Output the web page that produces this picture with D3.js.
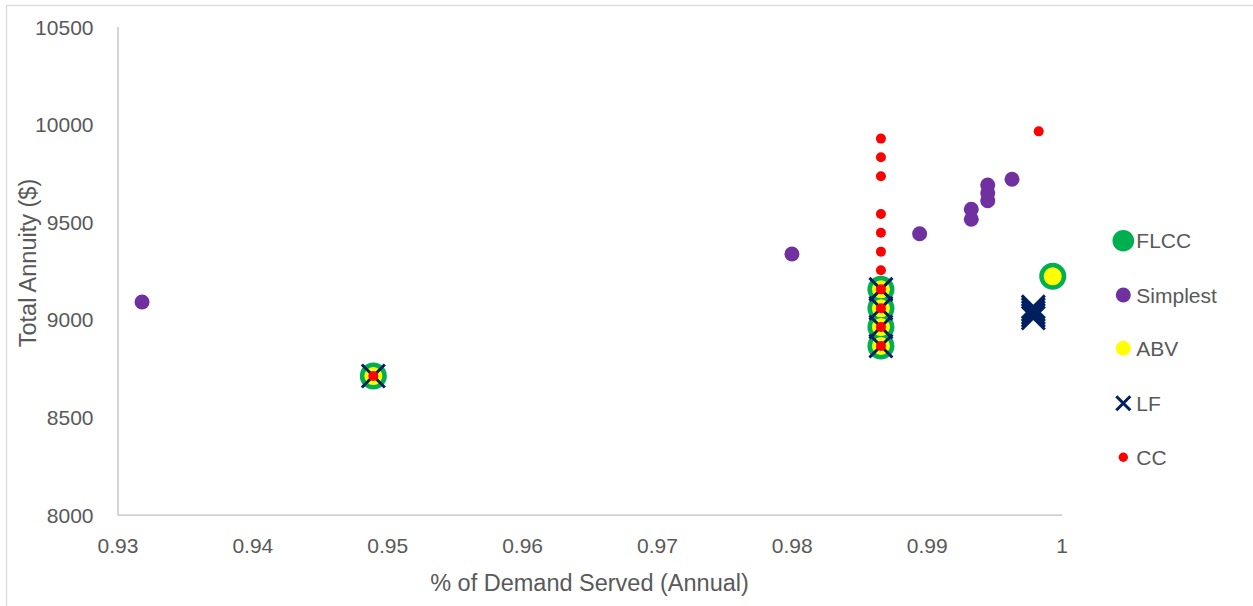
<!DOCTYPE html>
<html><head><meta charset="utf-8">
<script src="https://cdn.jsdelivr.net/npm/d3@7"></script>
<style>body{margin:0;background:#fff}svg{display:block}</style>
</head><body><svg id="c" width="1253" height="606"></svg>
<script>
// ---- data ----
const xTicks = [0.93, 0.94, 0.95, 0.96, 0.97, 0.98, 0.99, 1];
const yTicks = [8000, 8500, 9000, 9500, 10000, 10500];
const seriesNames = ["FLCC", "Simplest", "ABV", "LF", "CC"];
const flcc = [[0.94897, 8710], [0.98661, 8864], [0.98661, 8961], [0.98661, 9057], [0.98661, 9154], [0.99935, 9221]];
const simplest = [[0.93182, 9089], [0.98001, 9335], [0.98948, 9439], [0.99331, 9513], [0.99331, 9564],
                  [0.99453, 9608], [0.99453, 9647], [0.99453, 9688], [0.99633, 9718]];
const abv = [[0.94897, 8710], [0.98661, 8864], [0.98661, 8961], [0.98661, 9057], [0.98661, 9154], [0.99935, 9221]];
const lf = [[0.94897, 8710], [0.98661, 8864], [0.98661, 8961], [0.98661, 9057], [0.98661, 9154],
            [0.99791, 9007], [0.99791, 9021], [0.99791, 9035], [0.99791, 9050], [0.99791, 9064]];
const cc = [[0.94897, 8710], [0.98661, 8864], [0.98661, 8961], [0.98661, 9057], [0.98661, 9154],
            [0.98661, 9252], [0.98661, 9347], [0.98661, 9444], [0.98661, 9540], [0.98661, 9733],
            [0.98661, 9830], [0.98661, 9926], [0.99831, 9963]];

// ---- layout / style ----
const FONT = "'Liberation Sans', Arial, sans-serif";
const TXT = "#595959";
const svg = d3.select("#c");
const x = d3.scaleLinear().domain([0.93, 1]).range([117.5, 1061.5]);
const y = d3.scaleLinear().domain([8000, 10500]).range([514.7, 26.5]);

// outer chart border
svg.append("rect").attr("x", 6.5).attr("y", 5.5).attr("width", 1260).attr("height", 620)
  .attr("fill", "#fff").attr("stroke", "#d9d9d9").attr("stroke-width", 1.3);

// axes
const gx = svg.append("g").attr("transform", `translate(0,${y(8000)})`)
  .call(d3.axisBottom(x).tickValues(xTicks).tickSize(0).tickSizeOuter(0).tickFormat(d => d3.format("")(+d.toFixed(2))));
const gy = svg.append("g").attr("transform", `translate(${x(0.93)},0)`)
  .call(d3.axisLeft(y).tickValues(yTicks).tickSize(0).tickSizeOuter(0).tickPadding(24).tickFormat(d3.format("d")));
[gx, gy].forEach(g => {
  g.select(".domain").attr("stroke", "#bfbfbf").attr("stroke-width", 1.3);
  g.selectAll("text").attr("fill", TXT).style("font-family", FONT).style("font-size", "21px");
});
gx.selectAll("text").attr("dy", null).attr("y", 38.5);
gy.selectAll("text").attr("dy", "0.36em");

// axis titles
svg.append("text").attr("x", (x(0.93) + x(1)) / 2).attr("y", 591).attr("text-anchor", "middle")
  .attr("fill", TXT).style("font-family", FONT).style("font-size", "23.5px").text("% of Demand Served (Annual)");
svg.append("text").attr("transform", "translate(28,263) rotate(-90)").attr("text-anchor", "middle")
  .attr("dy", "0.36em").attr("fill", TXT).style("font-family", FONT).style("font-size", "23.5px").text("Total Annuity ($)");

// markers
const plot = svg.append("g");
function circles(data, r, color) {
  plot.append("g").selectAll("circle").data(data).join("circle")
    .attr("cx", d => x(d[0])).attr("cy", d => y(d[1])).attr("r", r).attr("fill", color);
}
function crosses(data, h, color, w) {
  plot.append("g").selectAll("path").data(data).join("path")
    .attr("d", d => { const cx = x(d[0]), cy = y(d[1]);
      return `M${cx - h},${cy - h}L${cx + h},${cy + h}M${cx - h},${cy + h}L${cx + h},${cy - h}`; })
    .attr("stroke", color).attr("stroke-width", w).attr("fill", "none");
}
circles(flcc, 13.5, "#00b050");
circles(simplest, 7.5, "#7030a0");
circles(abv, 9, "#ffff00");
crosses(lf, 11.5, "#002060", 3);
circles(cc, 5, "#ff0000");

// legend
const legendY = [240.7, 295, 348.3, 403.3, 457.3];
const lg = svg.append("g").selectAll("g").data(seriesNames).join("g")
  .attr("transform", (d, i) => `translate(1123.3,${legendY[i]})`);
lg.each(function (d) {
  const g = d3.select(this);
  if (d === "FLCC") g.append("circle").attr("r", 10.8).attr("fill", "#00b050");
  if (d === "Simplest") g.append("circle").attr("r", 7.5).attr("fill", "#7030a0");
  if (d === "ABV") g.append("circle").attr("r", 7.5).attr("fill", "#ffff00");
  if (d === "LF") g.append("path").attr("d", "M-7,-7L7,7M-7,7L7,-7").attr("stroke", "#002060").attr("stroke-width", 3);
  if (d === "CC") g.append("circle").attr("r", 4.7).attr("fill", "#ff0000");
  g.append("text").attr("x", 13).attr("dy", "0.36em").attr("fill", TXT)
    .style("font-family", FONT).style("font-size", "21px").text(d);
});
</script>
</body></html>
